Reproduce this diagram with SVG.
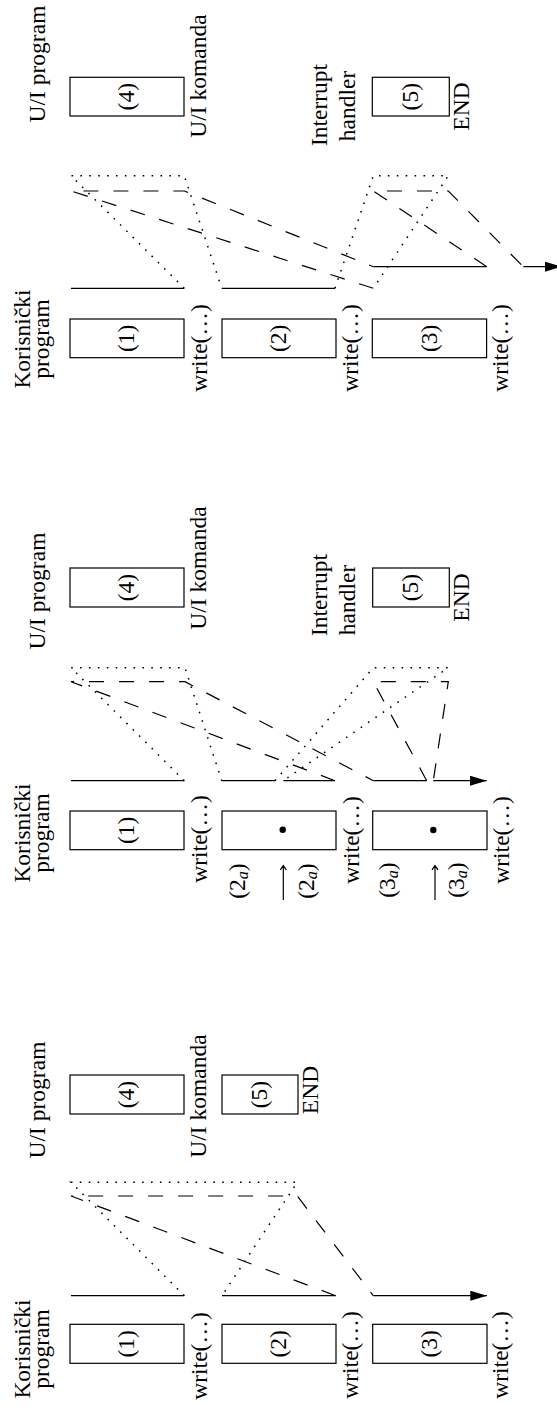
<svg xmlns="http://www.w3.org/2000/svg" width="557" height="1416" viewBox="0 0 557 1416">
<style>
.box{fill:none;stroke:#000;stroke-width:1.2}
.ln{fill:none;stroke:#000;stroke-width:1.2}
.da{stroke-dasharray:15 15}
.do{stroke-dasharray:1.6 7.3;stroke-width:1.5}
text{font-family:"Liberation Serif","Times New Roman",serif;font-size:23.5px;fill:#000;text-anchor:middle}
.sub{font-size:16px;font-style:italic}
</style>
<defs>
<marker id="ah" markerUnits="userSpaceOnUse" markerWidth="17" markerHeight="10" refX="16.7" refY="5" orient="auto">
<path d="M0,0 L16.7,5 L0,10 z" fill="#000"/>
</marker>
</defs>
<rect width="557" height="1416" fill="#fff"/>

<!-- Panel A (bottom) -->
<g id="a-labels">
<text transform="translate(30,1349) rotate(-90)">Korisnički</text>
<text transform="translate(48.5,1349) rotate(-90)">program</text>
<text transform="translate(45,1100) rotate(-90)">U/I program</text>
<text transform="translate(206,1096) rotate(-90)">U/I komanda</text>
</g>
<g id="a-box1"><rect class="box" x="70" y="1324.3" width="114" height="39"/><text transform="translate(134,1343.8) rotate(-90)">(1)</text><text transform="translate(206.5,1356) rotate(-90)">write(…)</text></g>
<g id="a-box2"><rect class="box" x="222" y="1324.3" width="114" height="39"/><text transform="translate(286,1343.8) rotate(-90)">(2)</text><text transform="translate(357.5,1355) rotate(-90)">write(…)</text></g>
<g id="a-box3"><rect class="box" x="372.7" y="1324.3" width="114.3" height="39"/><text transform="translate(436.8,1343.8) rotate(-90)">(3)</text><text transform="translate(507.5,1355) rotate(-90)">write(…)</text></g>
<g id="a-box4"><rect class="box" x="70" y="1075" width="114" height="39"/><text transform="translate(134,1094.5) rotate(-90)">(4)</text></g>
<g id="a-box5"><rect class="box" x="222" y="1075" width="76" height="39"/><text transform="translate(267,1094.5) rotate(-90)">(5)</text><text transform="translate(318,1090) rotate(-90)">END</text></g>

<!-- Panel B (middle) -->
<g id="b-labels">
<text transform="translate(30,833) rotate(-90)">Korisnički</text>
<text transform="translate(48.5,833) rotate(-90)">program</text>
<text transform="translate(45,591) rotate(-90)">U/I program</text>
<text transform="translate(206,568) rotate(-90)">U/I komanda</text>
<text transform="translate(327,595) rotate(-90)">Interrupt</text>
<text transform="translate(355,600) rotate(-90)">handler</text>
</g>
<g id="b-box1"><rect class="box" x="70" y="811" width="114" height="38.7"/><text transform="translate(134,830.3) rotate(-90)">(1)</text><text transform="translate(206.5,839) rotate(-90)">write(…)</text></g>
<g id="b-box2"><rect class="box" x="222" y="811" width="114" height="38.7"/><circle cx="282.7" cy="829.7" r="3.2"/>
<text transform="translate(244.5,881) rotate(-90)">(2<tspan class="sub" dy="3">a</tspan><tspan dy="-3">)</tspan></text>
<path class="ln" d="M283.3,900 V866 M280.3,869.8 L283.3,865.6 L286.3,869.8" stroke-width="1"/>
<text transform="translate(313.5,881) rotate(-90)">(2<tspan class="sub" dy="3">a</tspan><tspan dy="-3">)</tspan></text>
<text transform="translate(358.5,840) rotate(-90)">write(…)</text></g>
<g id="b-box3"><rect class="box" x="372.7" y="811" width="114.3" height="38.7"/><circle cx="433.3" cy="830" r="3.2"/>
<text transform="translate(394.5,880) rotate(-90)">(3<tspan class="sub" dy="3">a</tspan><tspan dy="-3">)</tspan></text>
<path class="ln" d="M435,900 V866 M432,869.8 L435,865.6 L438,869.8" stroke-width="1"/>
<text transform="translate(463.5,880) rotate(-90)">(3<tspan class="sub" dy="3">a</tspan><tspan dy="-3">)</tspan></text>
<text transform="translate(508.5,840) rotate(-90)">write(…)</text></g>
<g id="b-box4"><rect class="box" x="70" y="568" width="114" height="39"/><text transform="translate(134,587.5) rotate(-90)">(4)</text></g>
<g id="b-box5"><rect class="box" x="372.7" y="568" width="76.6" height="39"/><text transform="translate(418,587.5) rotate(-90)">(5)</text><text transform="translate(469,597.5) rotate(-90)">END</text></g>

<!-- Panel C (top) -->
<g id="c-labels">
<text transform="translate(30,339) rotate(-90)">Korisnički</text>
<text transform="translate(48.5,339) rotate(-90)">program</text>
<text transform="translate(45,64) rotate(-90)">U/I program</text>
<text transform="translate(206,76) rotate(-90)">U/I komanda</text>
<text transform="translate(327,105) rotate(-90)">Interrupt</text>
<text transform="translate(355,106) rotate(-90)">handler</text>
</g>
<g id="c-box1"><rect class="box" x="70" y="319" width="114" height="38.7"/><text transform="translate(134,338.3) rotate(-90)">(1)</text><text transform="translate(206.5,348) rotate(-90)">write(…)</text></g>
<g id="c-box2"><rect class="box" x="222" y="319" width="114" height="38.7"/><text transform="translate(286,338.3) rotate(-90)">(2)</text><text transform="translate(357.5,348) rotate(-90)">write(…)</text></g>
<g id="c-box3"><rect class="box" x="372.3" y="319" width="114.3" height="38.7"/><text transform="translate(436.5,338.3) rotate(-90)">(3)</text><text transform="translate(507.5,348) rotate(-90)">write(…)</text></g>
<g id="c-box4"><rect class="box" x="70" y="77.3" width="114" height="38.7"/><text transform="translate(134,96.7) rotate(-90)">(4)</text></g>
<g id="c-box5"><rect class="box" x="372.3" y="77.3" width="77" height="38.7"/><text transform="translate(418,96.7) rotate(-90)">(5)</text><text transform="translate(469,106.5) rotate(-90)">END</text></g>

<g id="connectors">
<!-- A -->
<path class="ln" d="M71,1295.7 H184.3"/>
<path class="ln do" d="M184.3,1295.7 L71,1182.3 H297.3 L222,1295.7"/>
<path class="ln" d="M222,1295.7 H335.7"/>
<path class="ln da" d="M335.7,1295.7 L71,1196 H297.3 L373.3,1295.7"/>
<path class="ln" d="M373.3,1295.7 H487" marker-end="url(#ah)"/>
<!-- B -->
<path class="ln" d="M71,780.7 H184.3"/>
<path class="ln do" d="M184.3,780.7 L71,667.7 H185 L221.7,780.7"/>
<path class="ln" d="M221.7,780.7 H275"/>
<path class="ln do" d="M275,780.7 L373.3,667.7 H448.3 L283.3,780.7"/>
<path class="ln" d="M283.3,780.7 H335"/>
<path class="ln da" d="M335,780.7 L71,681.7 H185 L373.3,780.7"/>
<path class="ln" d="M373.3,780.7 H426.7"/>
<path class="ln da" d="M426.7,780.7 L373.3,681.7 H448.3 L433.3,780.7"/>
<path class="ln" d="M433.3,780.7 H486.7" marker-end="url(#ah)"/>
<!-- C -->
<path class="ln" d="M71,288.3 H184.3"/>
<path class="ln do" d="M184.3,288.3 L71,175.7 H184.3 L221.7,288.3"/>
<path class="ln" d="M221.7,288.3 H335"/>
<path class="ln do" d="M335,288.3 L373.3,175.7 H448.3 L373.3,288.3"/>
<path class="ln da" d="M373.3,288.3 L71,191 H184.3 L373.3,266.7"/>
<path class="ln" d="M373.3,266.7 H486.7"/>
<path class="ln da" d="M486.7,266.7 L373.3,191 H448.3 L523.3,266.7"/>
<path class="ln" d="M523.3,266.7 H561.7" marker-end="url(#ah)"/>
</g>
</svg>
